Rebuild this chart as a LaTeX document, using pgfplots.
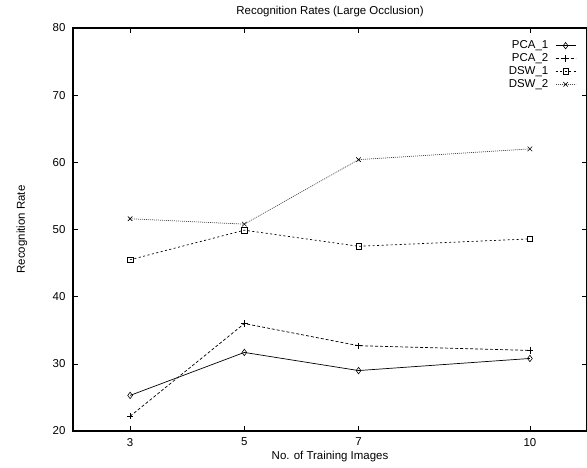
\documentclass[border=0pt]{standalone}
\usepackage{fontspec}
\setmainfont{Liberation Sans}
\usepackage{pgfplots}
\pgfplotsset{compat=1.18}

\begin{document}
\begin{tikzpicture}
\begin{axis}[
  name=ax,
  scale only axis,
  width=514bp, height=403bp,
  xmin=2, xmax=11, ymin=20, ymax=80,
  xtick={3,5,7,10}, ytick={20,30,...,80},
  tick align=inside, major tick length=5bp,
  axis line style={line width=1.1bp},
  every tick/.style={black,line width=0.6bp},
  /pgf/number format/assume math mode=true,
  font=\fontsize{11.5}{13}\selectfont,
  xticklabel style={yshift=-3.5bp},
  yticklabel style={xshift=-4bp},
  title={Recognition Rates (Large Occlusion)},
  every axis title shift=0pt,
  title style={at={(axis description cs:0.5,1)},anchor=center,yshift=16bp},
  xlabel={No. of Training Images},
  xlabel style={at={(axis description cs:0.5,0)},anchor=center,yshift=-26bp},
  ylabel={Recognition Rate},
  ylabel style={at={(axis description cs:0,0.5)},anchor=center,yshift=51bp},
  legend plot pos=right,
  legend cell align=right,
  legend style={at={(axis cs:10.81,78.4)},anchor=north east,draw=none,fill=none,
    row sep=-0.6bp,inner sep=0pt,font=\fontsize{11.5}{12}\selectfont},
  legend image code/.code={\path (0bp,0bp);\draw[mark repeat=2,mark phase=2,#1]
    plot coordinates {(5bp,0bp)(15bp,0bp)(25bp,0bp)};},
  every axis plot/.append style={line width=0.7bp,mark size=3.2bp,
    mark options={solid,line width=0.6bp,fill=white}},
]
\addplot[black,mark=diamond] coordinates {(3,25.3) (5,31.7) (7,29.0) (10,30.8)};
\addlegendentry{PCA\_1}
\addplot[black,dash pattern=on 3bp off 2bp,mark=+] coordinates {(3,22.2) (5,36.0) (7,32.7) (10,32.0)};
\addlegendentry{PCA\_2}
\addplot[black,dash pattern=on 2bp off 2.5bp,mark=square,mark options={solid,line width=0.6bp,fill=white,mark size=2.7bp}] coordinates {(3,45.5) (5,49.9) (7,47.5) (10,48.6)};
\addlegendentry{DSW\_1}
\addplot[black!70,dash pattern=on 1bp off 1bp,mark=x,mark options={solid,black,line width=0.6bp}] coordinates {(3,51.6) (5,50.8) (7,60.4) (10,62.0)};
\addlegendentry{DSW\_2}
\end{axis}
\pgfresetboundingbox
\path[use as bounding box] ([xshift=-73bp,yshift=-36bp]ax.south west) rectangle ([yshift=28bp]ax.north east);
\end{tikzpicture}
\end{document}
